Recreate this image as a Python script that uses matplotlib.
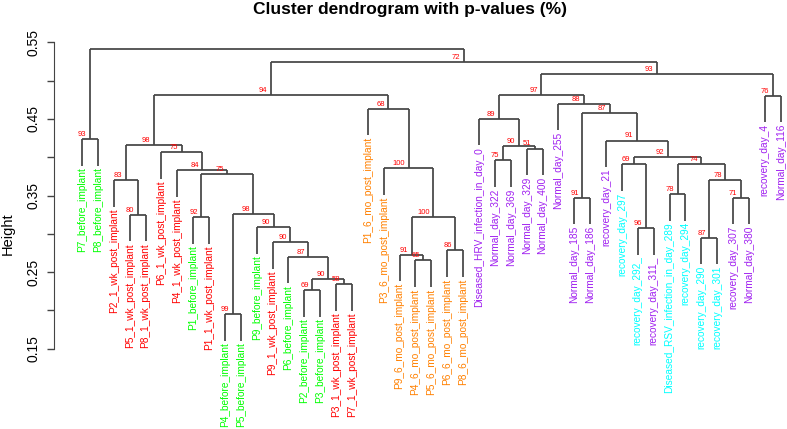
import numpy as np
import matplotlib
matplotlib.use("Agg")
import matplotlib.pyplot as plt

plt.rcParams['font.family'] = ['Liberation Sans', 'DejaVu Sans']

# leaves, in plotting order
leaf_labels = [
    "P7_before_implant", "P8_before_implant", "P2_1_wk_post_implant",
    "P5_1_wk_post_implant", "P8_1_wk_post_implant", "P6_1_wk_post_implant",
    "P4_1_wk_post_implant", "P1_before_implant", "P1_1_wk_post_implant",
    "P4_before_implant", "P5_before_implant", "P9_before_implant",
    "P9_1_wk_post_implant", "P6_before_implant", "P2_before_implant",
    "P3_before_implant", "P3_1_wk_post_implant", "P7_1_wk_post_implant",
    "P1_6_mo_post_implant", "P3_6_mo_post_implant", "P9_6_mo_post_implant",
    "P4_6_mo_post_implant", "P5_6_mo_post_implant", "P6_6_mo_post_implant",
    "P8_6_mo_post_implant", "Diseased_HRV_infection_in_day_0",
    "Normal_day_322", "Normal_day_369", "Normal_day_329", "Normal_day_400",
    "Normal_day_255", "Normal_day_185", "Normal_day_186", "recovery_day_21",
    "recovery_day_297", "recovery_day_292_", "recovery_day_311_",
    "Diseased_RSV_infection_in_day_289", "recovery_day_294",
    "recovery_day_290", "recovery_day_301", "recovery_day_307",
    "Normal_day_380", "recovery_day_4", "Normal_day_116",
]
leaf_groups = [
    "G", "G", "R", "R", "R", "R", "R", "G", "R", "G", "G", "G", "R", "G",
    "G", "G", "R", "R", "O", "O", "O", "O", "O", "O", "O", "P", "P", "P",
    "P", "P", "P", "P", "P", "P", "C", "C", "P", "C", "C", "C", "C", "P",
    "P", "P", "P",
]
group_colors = {"G": "#00FF00", "R": "#FF0000", "O": "#FF8000",
                "P": "#A020F0", "C": "#00FFFF"}

# merges, R style: negative = leaf (1-based), positive = earlier merge (1-based)
merge_left = [-10, -15, -17, 2, -22, -14, -21, -24, -13, -40, -36, -12, 7, -8,
              -4, 1, -32, -42, -38, -3, 10, 14, -7, -20, -35, 19, -27, 25,
              -6, -29, 27, 20, -34, -1, -26, 17, -19, -31, -44, 35, 32, 40,
              41, 34]
merge_right = [-11, -16, -18, 3, -23, 4, 5, -25, 6, -41, -37, 9, 8, -9,
               -5, 12, -33, -43, -39, 15, 18, 16, 22, 13, 11, 21, -28, 26,
               23, -30, 30, 29, 28, -2, 31, 33, 24, 36, -45, 38, 37, 39,
               42, 43]
merge_height = [0.1948, 0.2265, 0.2344, 0.2413, 0.2653, 0.2700, 0.2726, 0.2784,
                0.2892, 0.2948, 0.3071, 0.3084, 0.3215, 0.3215, 0.3249, 0.3255,
                0.3471, 0.3471, 0.3519, 0.3698, 0.3698, 0.3776, 0.3832, 0.3855,
                0.3907, 0.3911, 0.3959, 0.3998, 0.4064, 0.4113, 0.4146, 0.4163,
                0.4218, 0.4237, 0.4502, 0.4581, 0.4633, 0.4698, 0.4803, 0.4808,
                0.4816, 0.5086, 0.5247, 0.5409]
merge_au = [99, 69, 58, 90, 65, 87, 91, 86, 90, 87, 96, 90, 100, 92, 80, 98,
            91, 71, 78, 83, 78, 75, 84, 100, 69, 74, 75, 92, 75, 51, 90, 98,
            91, 93, 89, 87, 68, 88, 76, 97, 94, 93, 72, None]

y_ticks = [0.15, 0.20, 0.25, 0.30, 0.35, 0.40, 0.45, 0.50, 0.55]
y_ticklabels = ["0.15", "", "0.25", "", "0.35", "", "0.45", "", "0.55"]

fig = plt.figure(figsize=(7.87, 4.29), dpi=100)
ax = fig.add_axes([54 / 787, 1 - 348.7 / 429, 1 - 54 / 787, 306.4 / 429])

hang = 0.1 * (max(merge_height) - min(merge_height))
line_kw = dict(color="#444444", lw=1.25, clip_on=False, solid_capstyle="butt")

node_x = []
for i in range(len(merge_left)):
    h = merge_height[i]
    xs = []
    for child in (merge_left[i], merge_right[i]):
        if child < 0:
            cx = -child - 1
            ax.plot([cx, cx], [h - hang, h], **line_kw)
        else:
            cx = node_x[child - 1]
            ax.plot([cx, cx], [merge_height[child - 1], h], **line_kw)
        xs.append(cx)
    ax.plot([xs[0], xs[1]], [h, h], **line_kw)
    node_x.append(np.mean(xs))
    if merge_au[i] is not None:
        ax.annotate(str(merge_au[i]), (node_x[-1], h), xytext=(-2.5, 0.8),
                    textcoords="offset points", ha="right", va="bottom",
                    fontsize=5.5, color="#FF0000")

# leaf labels hang just under the end of each leaf line
for i in range(len(merge_left)):
    h = merge_height[i]
    for child in (merge_left[i], merge_right[i]):
        if child < 0:
            k = -child - 1
            ax.annotate(leaf_labels[k], (k, h - hang), xytext=(0, -1.2),
                        textcoords="offset points", rotation=90,
                        ha="center", va="top", fontsize=7.3,
                        color=group_colors[leaf_groups[k]],
                        annotation_clip=False)

ax.set_xlim(-(82 - 54) / 15.88, (787 - 82) / 15.88)
ax.set_ylim(0.15, 0.55)
for side in ["top", "right", "bottom"]:
    ax.spines[side].set_visible(False)
ax.spines["left"].set_bounds(0.15, 0.55)
ax.spines["left"].set_color("#444444")
ax.set_xticks([])
ax.set_yticks(y_ticks)
ax.set_yticklabels(y_ticklabels, rotation=90, va="center", fontsize=10)
ax.tick_params(axis="y", length=5, width=1.0, pad=5, color="#444444")
ax.patch.set_visible(False)

fig.text(8 / 787, 1 - 234 / 429, "Height", rotation=90, ha="center",
         va="center", fontsize=10.5)
fig.text(410 / 787, 1 - 14 / 429, "Cluster dendrogram with p-values (%)",
         ha="center", va="baseline", fontsize=12.5, fontweight="bold")

fig.savefig("out.png", dpi=100)
